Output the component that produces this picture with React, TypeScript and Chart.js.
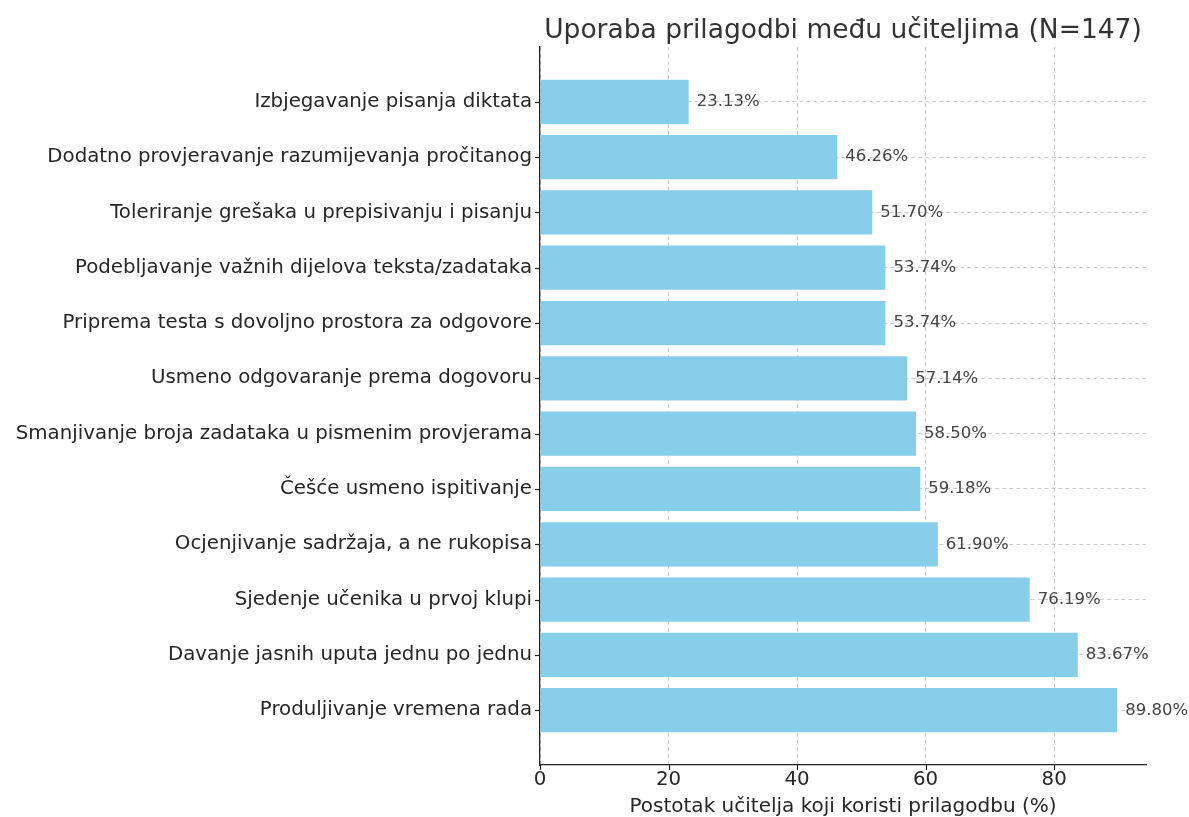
import React, { useEffect, useRef } from "react";
import { Chart, registerables } from "chart.js";

Chart.register(...registerables);

const categories = [
  "Izbjegavanje pisanja diktata",
  "Dodatno provjeravanje razumijevanja pročitanog",
  "Toleriranje grešaka u prepisivanju i pisanju",
  "Podebljavanje važnih dijelova teksta/zadataka",
  "Priprema testa s dovoljno prostora za odgovore",
  "Usmeno odgovaranje prema dogovoru",
  "Smanjivanje broja zadataka u pismenim provjerama",
  "Češće usmeno ispitivanje",
  "Ocjenjivanje sadržaja, a ne rukopisa",
  "Sjedenje učenika u prvoj klupi",
  "Davanje jasnih uputa jednu po jednu",
  "Produljivanje vremena rada",
];

const percentages = [23.13, 46.26, 51.7, 53.74, 53.74, 57.14, 58.5, 59.18, 61.9, 76.19, 83.67, 89.8];

const xTickValues = [0, 20, 40, 60, 80];

const chartTitle = "Uporaba prilagodbi među učiteljima (N=147)";
const xAxisTitle = "Postotak učitelja koji koristi prilagodbu (%)";

const FONT = "'DejaVu Sans', 'Noto Sans', sans-serif";

export default function App() {
  const canvasRef = useRef<HTMLCanvasElement | null>(null);

  useEffect(() => {
    document.body.style.margin = "0";
    document.body.style.overflow = "hidden";
    const canvas = canvasRef.current;
    if (!canvas) return;

    const decorPlugin = {
      id: "decor",
      afterDraw(chart: any) {
        const { ctx, chartArea, scales } = chart;
        const xs = scales.x;
        const ys = scales.y;
        ctx.save();
        // tick marks
        ctx.strokeStyle = "#222";
        ctx.lineWidth = 1.2;
        ctx.setLineDash([]);
        xTickValues.forEach((v) => {
          const px = Math.round(xs.getPixelForValue(v)) + 0.5;
          ctx.beginPath();
          ctx.moveTo(px, chartArea.bottom);
          ctx.lineTo(px, chartArea.bottom + 5);
          ctx.stroke();
        });
        categories.forEach((_, i) => {
          const py = Math.round(ys.getPixelForValue(i)) + 0.5;
          ctx.beginPath();
          ctx.moveTo(chartArea.left - 5, py);
          ctx.lineTo(chartArea.left, py);
          ctx.stroke();
        });
        // value labels
        ctx.fillStyle = "#444";
        ctx.font = `16.5px ${FONT}`;
        ctx.textAlign = "left";
        ctx.textBaseline = "middle";
        percentages.forEach((v, i) => {
          const px = xs.getPixelForValue(v) + 8;
          const py = ys.getPixelForValue(i);
          ctx.fillText(v.toFixed(2) + "%", px, py);
        });
        // title
        ctx.fillStyle = "#333";
        ctx.font = `26.5px ${FONT}`;
        ctx.textAlign = "center";
        ctx.textBaseline = "alphabetic";
        ctx.fillText(chartTitle, (chartArea.left + chartArea.right) / 2, 38);
        ctx.restore();
      },
    };

    const chart = new Chart(canvas, {
      type: "bar",
      data: {
        datasets: [
          {
            data: percentages.map((v, i) => ({ x: v, y: i })),
            backgroundColor: "#87CEEB",
            borderWidth: 0,
            barPercentage: 0.8,
            categoryPercentage: 1,
          },
        ],
      },
      options: {
        indexAxis: "y",
        responsive: false,
        animation: false,
        devicePixelRatio: 1,
        layout: { padding: { top: 47, right: 43, bottom: 0, left: 0 } },
        plugins: {
          legend: { display: false },
          tooltip: { enabled: false },
          title: { display: false },
        },
        scales: {
          x: {
            type: "linear",
            position: "bottom",
            min: 0,
            max: 94.29,
            offset: false,
            afterBuildTicks: (s: any) => {
              s.ticks = xTickValues.map((v) => ({ value: v }));
            },
            afterFit: (s: any) => {
              s.height = 52;
            },
            ticks: {
              font: { family: FONT, size: 19.8 },
              color: "#262626",
              padding: 3,
              callback: (v: any) => String(v),
            },
            grid: {
              drawTicks: false,
              offset: false,
              color: "rgba(0,0,0,0.2)",
              lineWidth: 1,
            },
            border: { display: true, color: "#222", width: 1.3, dash: [4, 3] },
            title: {
              display: true,
              text: xAxisTitle,
              font: { family: FONT, size: 20, lineHeight: 1 },
              color: "#262626",
              padding: { top: 0, bottom: 0 },
            },
          },
          y: {
            type: "linear",
            reverse: true,
            min: -0.99,
            max: 11.99,
            offset: false,
            afterBuildTicks: (s: any) => {
              s.ticks = categories.map((_, i) => ({ value: i }));
            },
            afterFit: (s: any) => {
              s.width = 540;
            },
            ticks: {
              font: { family: FONT, size: 19.8 },
              color: "#262626",
              padding: 8,
              autoSkip: false,
              callback: (v: any) => categories[v as number] ?? "",
            },
            grid: {
              drawTicks: false,
              offset: false,
              color: "rgba(0,0,0,0.2)",
              lineWidth: 1,
            },
            border: { display: true, color: "#222", width: 1.3, dash: [4, 3] },
          },
        },
      },
      plugins: [decorPlugin],
    } as any);

    return () => {
      chart.destroy();
    };
  }, []);

  return (
    <div style={{ position: "absolute", left: 0, top: 0, width: 1189, height: 817, background: "#fff" }}>
      <canvas ref={canvasRef} width={1189} height={817} style={{ display: "block" }} />
    </div>
  );
}
